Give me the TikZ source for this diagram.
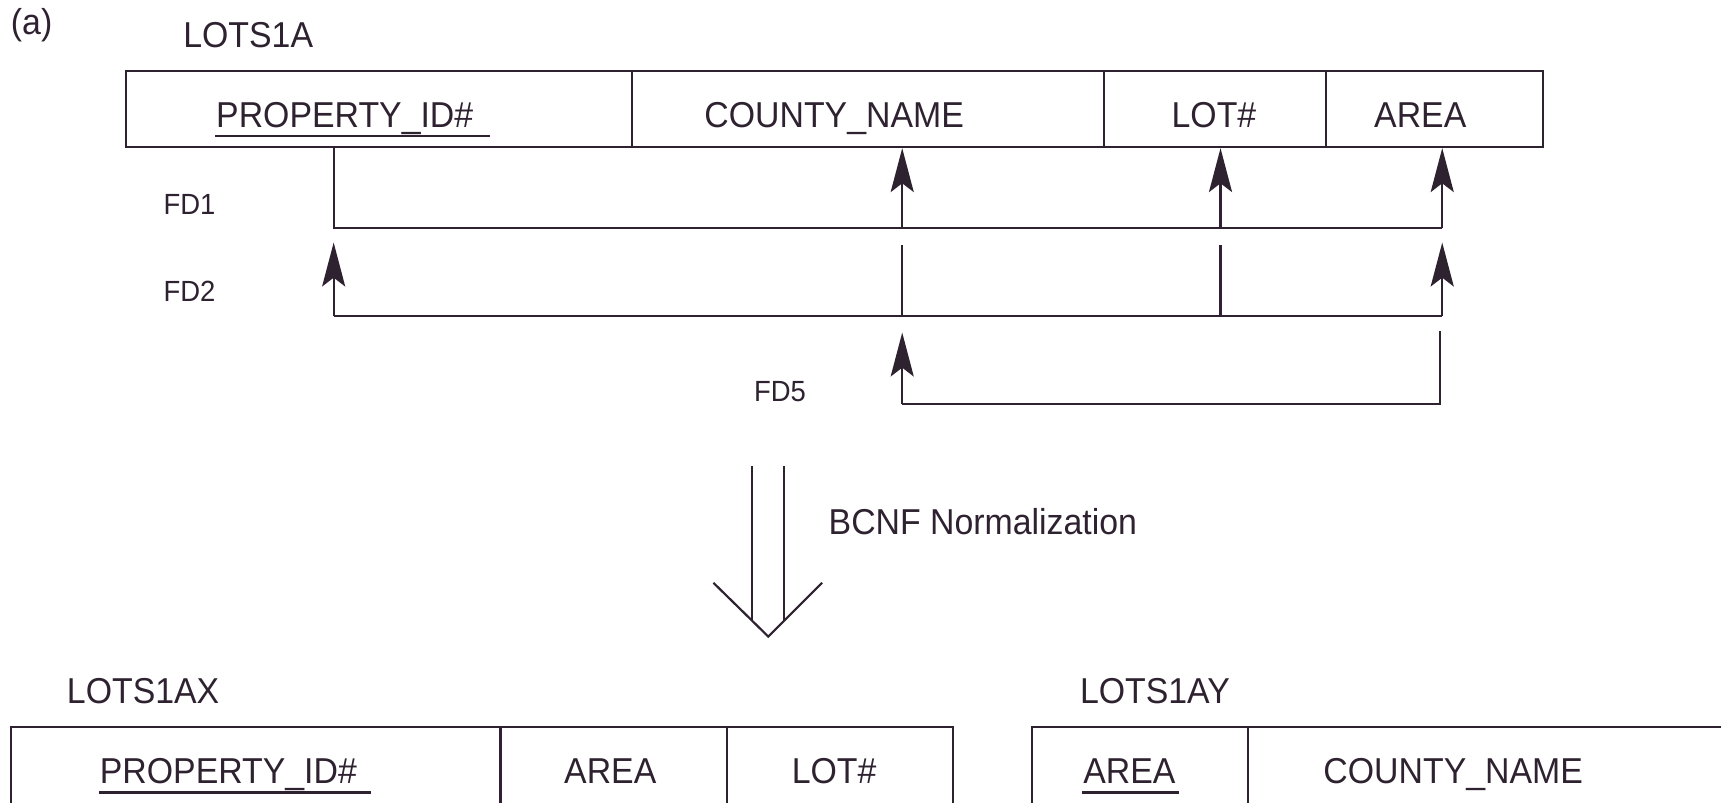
\documentclass[tikz,border=0pt]{standalone}
\usepackage{fontspec}
\setmainfont[FakeStretch=0.94]{Liberation Sans}
\usetikzlibrary{arrows.meta}
\definecolor{ink}{RGB}{46,34,48}
\begin{document}
\begin{tikzpicture}[x=0.5pt,y=-0.5pt, line width=1pt, color=ink,
  cell/.style={draw=ink, line width=1pt, inner sep=0pt, anchor=north west, minimum height=34.5pt},
  lbl/.style={font=\fontsize{16.4}{19}\selectfont, inner sep=0pt, text=ink},
  fdl/.style={font=\fontsize{13.3}{15}\selectfont, inner sep=0pt, text=ink, anchor=base west},
  fdarrow/.style={-{Stealth[length=20pt,width=10.5pt,inset=4pt]}, draw=ink, fill=ink}]
\path[use as bounding box, draw=none] (0,0) rectangle (1568,731.6);

% titles
\node[lbl, anchor=base west] (tag) at (9,31) {(a)};
\node[lbl, anchor=base west] (rel) at (166,43) {LOTS1A};

% top relation cells
\node[cell, minimum width=230.5pt] (c1) at (114,64) {};
\node[cell, minimum width=215pt] (c2) at (575,64) {};
\node[cell, minimum width=101pt] (c3) at (1005,64) {};
\node[cell, minimum width=99pt] (c4) at (1207,64) {};
\node[lbl, anchor=base west] (t1) at (196,116) {PROPERTY\_ID\#};
\node[lbl, anchor=base] (t2) at (760,116) {COUNTY\_NAME};
\node[lbl, anchor=base] (t3) at (1106,116) {LOT\#};
\node[lbl, anchor=base] (t4) at (1294,116) {AREA};
\draw ([yshift=-4pt]t1.base west) -- ([xshift=7pt,yshift=-4pt]t1.base east);

% FD1
\coordinate (f1a) at (304,208);
\coordinate (f1b) at (822,208);
\coordinate (f1c) at (1112,208);
\coordinate (f1d) at (1314,208);
\draw (f1a |- c1.south) -- (f1a) -- (f1d);
\draw[fdarrow] (f1b) -- (f1b |- c2.south);
\draw[fdarrow] (f1c) -- (f1c |- c3.south);
\draw[fdarrow] (f1d) -- (f1d |- c4.south);
\node[fdl] (fd1) at (148,195) {FD1};

% FD2
\coordinate (f2a) at (304,288);
\coordinate (f2b) at (822,288);
\coordinate (f2c) at (1112,288);
\coordinate (f2d) at (1314,288);
\coordinate (f2ta) at (304,221);
\coordinate (f2tb) at (822,223);
\coordinate (f2tc) at (1112,223);
\coordinate (f2td) at (1314,221);
\draw (f2a) -- (f2d);
\draw[fdarrow] (f2a) -- (f2ta);
\draw[fdarrow] (f2d) -- (f2td);
\draw (f2b) -- (f2tb);
\draw (f2c) -- (f2tc);
\node[fdl] (fd2) at (148,275) {FD2};

% FD5
\coordinate (f5a) at (822,368);
\coordinate (f5b) at (1312,368);
\coordinate (f5ta) at (822,303);
\coordinate (f5tb) at (1312,302);
\draw[fdarrow] (f5a) -- (f5ta);
\draw (f5tb) -- (f5b) -- (f5a);
\node[fdl] (fd5) at (686,366) {FD5};

% normalization arrow
\coordinate (n1) at (685,425);
\coordinate (n2) at (714,425);
\coordinate (n1b) at (685,566);
\coordinate (n2b) at (714,566);
\coordinate (vl) at (650,531);
\coordinate (vm) at (700,580);
\coordinate (vr) at (749,531);
\draw (n1) -- (n1b);
\draw (n2) -- (n2b);
\draw (vl) -- (vm) -- (vr);
\node[lbl, anchor=base west] (norm) at (754,487) {BCNF Normalization};

% LOTS1AX
\node[lbl, anchor=base west] (relx) at (60,641) {LOTS1AX};
\coordinate (xa) at (10,662);
\coordinate (xb) at (456,662);
\coordinate (xc) at (662,662);
\coordinate (xd) at (868,662);
\draw (10,731.6) -- (xa) -- (xd) -- (868,731.6);
\draw (xb) -- (456,731.6);
\draw (xc) -- (662,731.6);
\node[lbl, anchor=base west] (x1) at (90,714) {PROPERTY\_ID\#};
\node[lbl, anchor=base] (x2) at (556,714) {AREA};
\node[lbl, anchor=base] (x3) at (760,714) {LOT\#};
\draw ([yshift=-4pt]x1.base west) -- ([xshift=6pt,yshift=-4pt]x1.base east);

% LOTS1AY
\node[lbl, anchor=base west] (rely) at (983,641) {LOTS1AY};
\coordinate (ya) at (940,662);
\coordinate (yb) at (1137,662);
\coordinate (yc) at (1568,662);
\draw (940,731.6) -- (ya) -- (yc);
\draw (yb) -- (1137,731.6);
\node[lbl, anchor=base west] (y1) at (986,714) {AREA};
\node[lbl, anchor=base] (y2) at (1324,714) {COUNTY\_NAME};
\draw ([yshift=-4pt]y1.base west) -- ([xshift=1pt,yshift=-4pt]y1.base east);
\end{tikzpicture}
\end{document}
